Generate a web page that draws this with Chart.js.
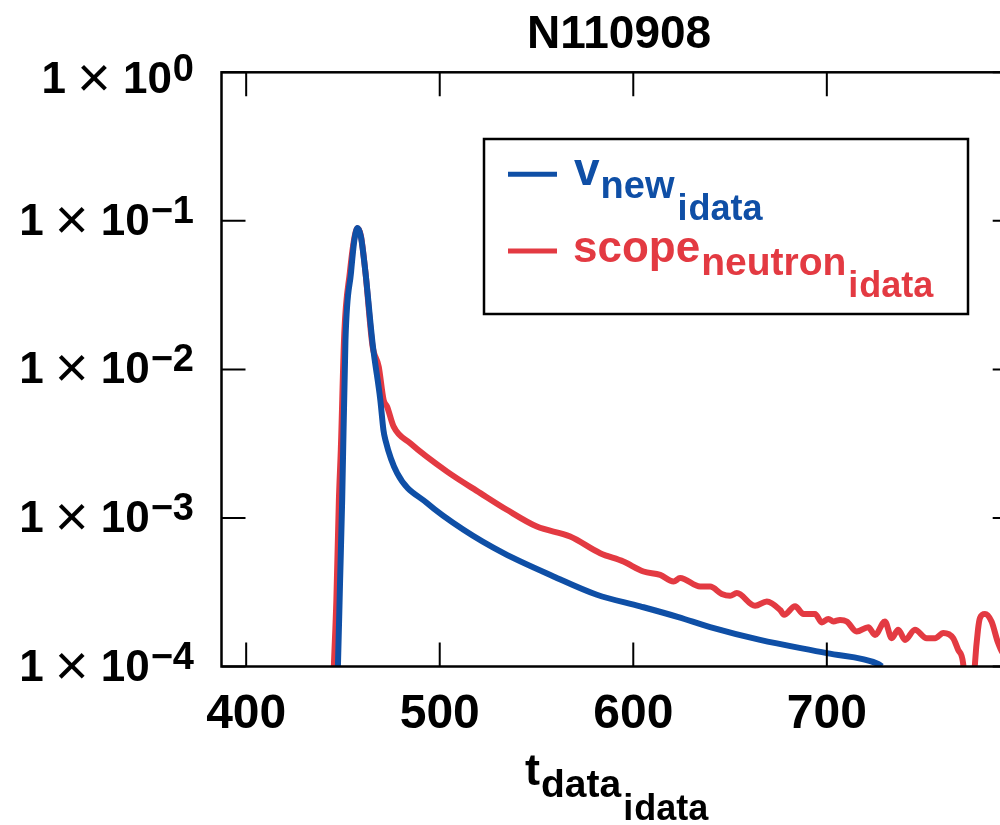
<!DOCTYPE html>
<html>
<head>
<meta charset="utf-8">
<script src="https://cdn.jsdelivr.net/npm/chart.js@4.4.1/dist/chart.umd.min.js"></script>
<style>
html,body{margin:0;padding:0;background:#fff;overflow:hidden;width:1000px;height:825px;}
#wrap{position:absolute;left:0;top:0;width:1030px;height:825px;}
</style>
</head>
<body>
<div id="wrap"><canvas id="c" width="1030" height="825"></canvas></div>
<script>
// ---- data ----
const chartTitle = "N110908";
const xTickValues = [400, 500, 600, 700];
const yTickExponents = [0, -1, -2, -3, -4];

const tBlue = [446.5, 447.4, 448.5, 449.6, 451.3, 454.2, 455.9, 457.6, 459.3, 461.6, 465.4, 469.3, 470.9, 471.9, 478.0, 493.4, 512.3, 533.0, 558.8, 581.2, 603.6, 623.3, 639.7, 665.5, 700.0, 726.6, 728.5];
const vNew  = [5e-5, 1.0e-4, 3.7e-4, 1.32e-3, 1.58e-2, 4.53e-2, 7.43e-2, 8.95e-2, 7.8e-2, 4.53e-2, 1.46e-2, 6.24e-3, 3.92e-3, 3.36e-3, 2.0e-3, 1.26e-3, 8.32e-4, 5.79e-4, 4.04e-4, 3.04e-4, 2.54e-4, 2.15e-4, 1.84e-4, 1.51e-4, 1.23e-4, 1.04e-4, 1.0e-4];

const tRed = [444.5, 445.3, 446.6, 447.9, 448.9, 450.7, 453.6, 455.7, 457.5, 459.3, 461.6, 465.2, 468.5, 471.0, 472.8, 476.2, 484.8, 503.8, 521.0, 534.7, 550.2, 567.4, 582.9, 594.9, 605.3, 613.9, 620.8, 624.2, 634.6, 639.7, 645.7, 650.0, 653.5, 662.9, 669.0, 675.9, 677.9, 683.6, 687.9, 693.9, 697.4, 700.8, 703.4, 706.8, 710.3, 715.4, 721.4, 724.9, 730.0, 733.5, 736.9, 740.4, 745.5, 751.6, 755.9, 760.2, 765.3, 767.9, 770.5, 772.4, 774.9, 776.5, 778.1, 779.1, 781.7, 785.1, 788.5, 792.0, 797.7];
const scopeNeutron = [5e-5, 1.0e-4, 2.8e-4, 1.32e-3, 2.9e-3, 1.76e-2, 4.53e-2, 7.43e-2, 8.9e-2, 7.9e-2, 4.53e-2, 1.46e-2, 1.04e-2, 6.24e-3, 5.62e-3, 4.12e-3, 3.18e-3, 2.05e-3, 1.47e-3, 1.135e-3, 8.75e-4, 7.5e-4, 5.79e-4, 5.09e-4, 4.36e-4, 4.14e-4, 3.73e-4, 3.94e-4, 3.45e-4, 3.45e-4, 3.08e-4, 2.99e-4, 3.12e-4, 2.56e-4, 2.74e-4, 2.4e-4, 2.23e-4, 2.54e-4, 2.26e-4, 2.26e-4, 1.98e-4, 2.09e-4, 2.01e-4, 2.06e-4, 2.01e-4, 1.72e-4, 1.84e-4, 1.63e-4, 2.01e-4, 1.55e-4, 1.77e-4, 1.51e-4, 1.77e-4, 1.55e-4, 1.55e-4, 1.68e-4, 1.55e-4, 1.29e-4, 1.03e-4, 4e-5, 4e-5, 1.03e-4, 1.77e-4, 2.12e-4, 2.26e-4, 2.01e-4, 1.44e-4, 1.2e-4, 1.3e-4];

// ---- style ----
const BLUE = '#0f4fa6';
const RED = '#e33a42';
const FONT = "'Liberation Sans', Arial, Helvetica, sans-serif";
const W = 1030, H = 825;
const AREA = {left: 221.5, top: 72.3, right: 1016.7, bottom: 666.5};

function f(sz){ return "bold " + sz + "px " + FONT; }

// draws a run of [text, size, baseline, gap] pieces left to right
function drawRun(ctx, x, pieces, color){
  ctx.fillStyle = color;
  ctx.textAlign = 'left';
  ctx.textBaseline = 'alphabetic';
  for (const p of pieces){
    ctx.font = f(p[1]);
    x += (p[3] || 0);
    ctx.fillText(p[0], x, p[2]);
    x += ctx.measureText(p[0]).width;
  }
  return x;
}

const decor = {
  id: 'decor',
  afterDraw(chart){
    const ctx = chart.ctx;
    const xs = chart.scales.x, ys = chart.scales.y;
    const a = chart.chartArea;
    ctx.save();
    // frame
    ctx.strokeStyle = '#000';
    ctx.lineWidth = 2.5;
    ctx.strokeRect(a.left, a.top, a.right - a.left, a.bottom - a.top);
    // ticks (inward, all sides)
    const TL = 24;
    ctx.lineWidth = 2;
    ctx.beginPath();
    for (const v of xTickValues){
      const px = xs.getPixelForValue(v);
      ctx.moveTo(px, a.bottom); ctx.lineTo(px, a.bottom - TL);
      ctx.moveTo(px, a.top); ctx.lineTo(px, a.top + TL);
    }
    for (const e of yTickExponents){
      const py = ys.getPixelForValue(Math.pow(10, e));
      ctx.moveTo(a.left, py); ctx.lineTo(a.left + TL, py);
      ctx.moveTo(a.right, py); ctx.lineTo(a.right - TL, py);
    }
    ctx.stroke();

    // x tick labels
    ctx.fillStyle = '#000';
    ctx.font = f(48);
    ctx.textAlign = 'center';
    ctx.textBaseline = 'alphabetic';
    for (const v of xTickValues){
      ctx.fillText(String(v), xs.getPixelForValue(v), 728);
    }

    // y tick labels: 1 × 10^e
    for (const e of yTickExponents){
      let cy = ys.getPixelForValue(Math.pow(10, e));
      if (cy < a.top + 5) cy = a.top + 6.5;
      const expStr = e < 0 ? '\u2212' + Math.abs(e) : String(e);
      ctx.font = f(38);
      const ew = ctx.measureText(expStr).width;
      const expX = 194 - ew;
      ctx.textAlign = 'left';
      ctx.fillText(expStr, expX, cy + 2);
      ctx.font = f(44);
      ctx.textAlign = 'right';
      ctx.fillText('10', expX - 1, cy + 14);
      ctx.fillText('1', expX - 107, cy + 14);
      ctx.font = "normal 58px " + FONT;
      ctx.textAlign = 'center';
      ctx.fillText('\u00d7', expX - 79, cy + 18);
    }

    // title
    ctx.font = f(46);
    ctx.textAlign = 'center';
    ctx.fillText(chartTitle, (a.left + a.right) / 2, 48);

    // x axis title: t_{data_{i_data}}
    drawRun(ctx, 525, [['t', 45, 785], ['data', 39, 797, 1], ['i', 36, 820, 2], ['data', 36, 820, 1]], '#000');

    // legend
    ctx.fillStyle = '#fff';
    ctx.fillRect(484, 139, 484, 175);
    ctx.strokeStyle = '#000';
    ctx.lineWidth = 2.5;
    ctx.strokeRect(484, 139, 484, 175);
    ctx.lineWidth = 5;
    ctx.strokeStyle = BLUE;
    ctx.beginPath(); ctx.moveTo(508, 174.3); ctx.lineTo(557, 174.3); ctx.stroke();
    ctx.strokeStyle = RED;
    ctx.beginPath(); ctx.moveTo(508, 251); ctx.lineTo(557, 251); ctx.stroke();
    drawRun(ctx, 574, [['v', 46, 185], ['new', 38, 198, 1], ['i', 36, 220, 3], ['data', 36, 220, 1]], BLUE);
    drawRun(ctx, 573, [['scope', 44, 262], ['neutron', 39, 275, 1], ['i', 36, 297, 2], ['data', 36, 297, 1]], RED);
    ctx.restore();
  }
};

const ctx = document.getElementById('c').getContext('2d');
new Chart(ctx, {
  type: 'line',
  data: {
    datasets: [
      {
        label: 'v new i data',
        data: tBlue.map((t, i) => ({x: t, y: vNew[i]})),
        borderColor: BLUE, borderWidth: 6, pointRadius: 0, fill: false,
        cubicInterpolationMode: 'monotone', clip: 0
      },
      {
        label: 'scope neutron i data',
        data: tRed.map((t, i) => ({x: t, y: scopeNeutron[i]})),
        borderColor: RED, borderWidth: 6, pointRadius: 0, fill: false,
        cubicInterpolationMode: 'monotone', clip: 0
      }
    ]
  },
  options: {
    responsive: false,
    animation: false,
    layout: {padding: {left: 0, top: AREA.top, right: W - AREA.right, bottom: 0}},
    plugins: {legend: {display: false}, title: {display: false}, tooltip: {enabled: false}},
    scales: {
      x: {
        type: 'linear', min: 387.25, max: 798.1,
        grid: {display: false}, border: {display: false},
        ticks: {display: false},
        afterFit(s){ s.height = H - AREA.bottom; }
      },
      y: {
        type: 'logarithmic', min: 1e-4, max: 1,
        grid: {display: false}, border: {display: false},
        ticks: {display: false},
        afterFit(s){ s.width = AREA.left; }
      }
    }
  },
  plugins: [decor]
});
</script>
</body>
</html>
